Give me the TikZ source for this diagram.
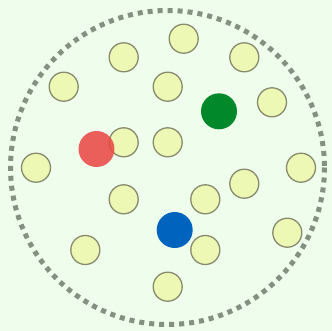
\documentclass[tikz,border=0pt]{standalone}
\usepackage{xcolor}
\usepackage{tikz}
\definecolor{bgmint}{RGB}{238,253,236}
\definecolor{ringgray}{RGB}{130,146,130}
\definecolor{dotfill}{RGB}{237,248,181}
\definecolor{dotline}{RGB}{136,138,108}
\definecolor{redpt}{RGB}{234,74,70}
\definecolor{greenpt}{RGB}{0,136,42}
\definecolor{bluept}{RGB}{0,100,190}

\begin{document}
\begin{tikzpicture}[x=1bp,y=-1bp,
    dot/.style={circle,draw=dotline,fill=dotfill,line width=1.3bp,minimum size=29bp,inner sep=0pt},
    marker/.style={circle,minimum size=36bp,inner sep=0pt}]
      \fill[bgmint] (0,0) rectangle (332,331);
      \useasboundingbox (0,0) rectangle (332,331);
      \draw[ringgray,line width=5bp,dash pattern=on 5bp off 5bp] (167.5,167.5) circle (157);
      \foreach \x/\y [count=\i] in {183.7/38.7, 123.7/57.3, 244.3/57.3, 63.7/86.7, 167.7/86.7,
          272/102.3, 123.7/142.3, 167.7/142.3, 36/167.7, 301/167.7, 244.3/183.7,
          123.7/199.3, 205.3/199.3, 287.3/232.7, 85.3/250, 205.3/250, 167.7/286.7}
        \node[dot] (p\i) at (\x,\y) {};
      \node[marker,fill=greenpt] (g) at (219,111.3) {};
      \node[marker,fill=bluept] (b) at (174.7,230) {};
      \node[marker,fill=redpt,fill opacity=0.88] (r) at (96.5,149) {};
    \end{tikzpicture}
\end{document}
